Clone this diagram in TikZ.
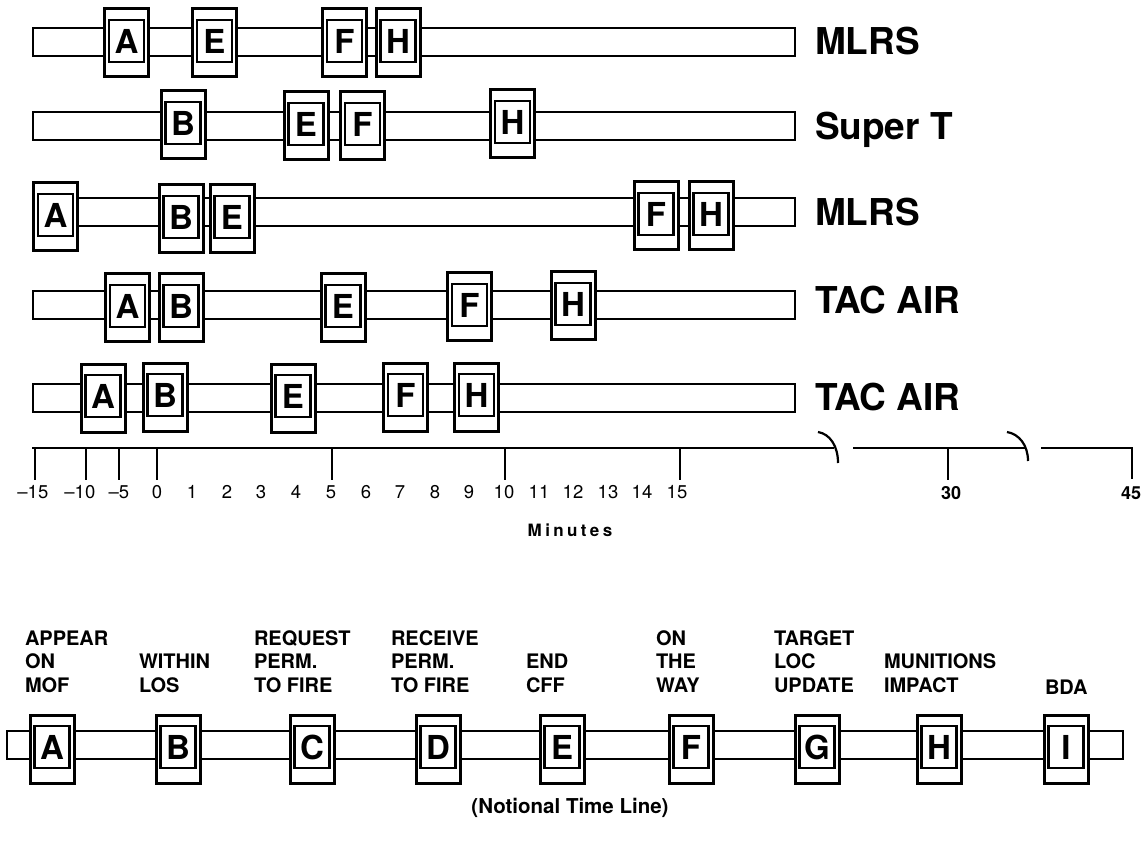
\documentclass[tikz,border=0pt]{standalone}
\usepackage{fontspec}
\setmainfont{TeX Gyre Heros}
\newcommand{\evtbox}[4]{%
  \node[outerbox] (#1) at (#2,#3) {};
  \node[innerbox] (#1t) at (#2,#3-2) {#4};}
\begin{document}
\begin{tikzpicture}[x=1pt,y=-1pt,
  every node/.style={inner sep=0pt, outer sep=0pt},
  barshape/.style={draw, line width=2.5pt, fill=white, rectangle, minimum height=28pt, anchor=west},
  outerbox/.style={draw, line width=3pt, fill=white, rectangle, minimum width=44pt, minimum height=68pt},
  innerbox/.style={draw, line width=2.3pt, fill=white, rectangle, minimum width=35pt, minimum height=42pt, font=\fontsize{33}{33}\selectfont\bfseries},
  rowlabel/.style={anchor=base west, font=\fontsize{37}{37}\selectfont\bfseries},
  axisline/.style={line width=2.2pt},
  numlabel/.style={anchor=base, font=\fontsize{18.5}{18.5}\selectfont},
  boldnum/.style={anchor=base, font=\fontsize{18}{18}\selectfont\bfseries},
  eventlabel/.style={anchor=base west, align=left, font=\fontsize{20}{23.5}\selectfont\bfseries},
]
\useasboundingbox[fill=white] (0,0) rectangle (1146,842);

% ---- Row 1 : MLRS
\node[barshape, minimum width=762pt] (bar1) at (33,42) {};
\evtbox{r1A}{126.5}{43}{A}
\evtbox{r1E}{214.5}{43}{E}
\evtbox{r1F}{344.5}{43}{F}
\evtbox{r1H}{398}{43}{H}
\node[rowlabel] (lab1) at (815,55) {MLRS};

% ---- Row 2 : Super T
\node[barshape, minimum width=762pt] (bar2) at (33,126) {};
\evtbox{r2B}{183}{125}{B}
\evtbox{r2E}{306}{126}{E}
\evtbox{r2F}{362.5}{126}{F}
\evtbox{r2H}{512.5}{124}{H}
\node[rowlabel] (lab2) at (815,140) {Super T};

% ---- Row 3 : MLRS
\node[barshape, minimum width=762pt] (bar3) at (33,212) {};
\evtbox{r3A}{55.5}{217}{A}
\evtbox{r3B}{181}{219}{B}
\evtbox{r3E}{232}{219}{E}
\evtbox{r3F}{656}{216}{F}
\evtbox{r3H}{711}{216}{H}
\node[rowlabel] (lab3) at (815,226) {MLRS};

% ---- Row 4 : TAC AIR
\node[barshape, minimum width=762pt] (bar4) at (33,305) {};
\evtbox{r4A}{127.5}{308}{A}
\evtbox{r4B}{181}{308}{B}
\evtbox{r4E}{343}{308}{E}
\evtbox{r4F}{469.5}{307}{F}
\evtbox{r4H}{573}{306}{H}
\node[rowlabel] (lab4) at (815,314) {TAC AIR};

% ---- Row 5 : TAC AIR
\node[barshape, minimum width=762pt] (bar5) at (33,398) {};
\evtbox{r5A}{103}{398}{A}
\evtbox{r5B}{165}{397}{B}
\evtbox{r5E}{293}{398}{E}
\evtbox{r5F}{405.5}{397}{F}
\evtbox{r5H}{476.5}{397}{H}
\node[rowlabel] (lab5) at (815,410) {TAC AIR};

% ---- Axis
\coordinate (axL) at (32,448);
\coordinate (axR1) at (834,448);
\coordinate (axL2) at (853,448);
\coordinate (axR2) at (1025,448);
\coordinate (axL3) at (1041,448);
\coordinate (axR3) at (1132,448);
\draw[axisline] (axL) -- (axR1);
\draw[axisline] (axL2) -- (axR2);
\draw[axisline] (axL3) -- (axR3) -- (1132,479);
\coordinate (brk1a) at (818,432);
\coordinate (brk1b) at (838,463);
\coordinate (brk2a) at (1007,432);
\coordinate (brk2b) at (1028,461);
\draw[axisline] (brk1a) .. controls (830,434) and (838,446) .. (brk1b);
\draw[axisline] (brk2a) .. controls (1019,434) and (1028,445) .. (brk2b);
\foreach \t in {35,86,119,157,332,505,680,948}
  \draw[axisline] (\t,448) -- (\t,480);

\foreach \xp/\v in {38/15,85/10,124/5}
  \node[numlabel] at (\xp,498) {\llap{–}\v};
\foreach \xp/\v in {157/0,192/1,227/2,261/3,296/4,331/5,366/6,400/7,435/8,469/9,504/10,539/11,573/12,608/13,642/14,677/15}
  \node[numlabel] at (\xp,498) {\v};
\node[boldnum] (n30) at (951,499) {30};
\node[boldnum] (n45) at (1131,499) {45};
\node[font=\fontsize{17}{17}\selectfont\bfseries\addfontfeature{LetterSpace=20}] (minutes) at (570,530) {Minutes};

% ---- Notional time line (labels anchored on the baseline of their last line)
\node[eventlabel] (tA) at (25,692) {APPEAR\\ON\\MOF};
\node[eventlabel] (tB) at (139,692) {WITHIN\\LOS};
\node[eventlabel] (tC) at (254,692) {REQUEST\\PERM.\\TO FIRE};
\node[eventlabel] (tD) at (391,692) {RECEIVE\\PERM.\\TO FIRE};
\node[eventlabel] (tE) at (526,692) {END\\CFF};
\node[eventlabel] (tF) at (656,692) {ON\\THE\\WAY};
\node[eventlabel] (tG) at (774,692) {TARGET\\LOC\\UPDATE};
\node[eventlabel] (tH) at (884,692) {MUNITIONS\\IMPACT};
\node[eventlabel] (tI) at (1045,694) {BDA};

\node[barshape, minimum width=1116pt] (bar6) at (7,745) {};
\evtbox{nA}{52}{749}{A}
\evtbox{nB}{178}{749}{B}
\evtbox{nC}{312}{749}{C}
\evtbox{nD}{438}{749}{D}
\evtbox{nE}{562}{749}{E}
\evtbox{nF}{691}{749}{F}
\evtbox{nG}{817}{749}{G}
\evtbox{nH}{939}{749}{H}
\evtbox{nI}{1066}{749}{I}

\node[font=\fontsize{20.5}{20.5}\selectfont\bfseries] (title) at (570,808) {(Notional Time Line)};
\end{tikzpicture}
\end{document}
